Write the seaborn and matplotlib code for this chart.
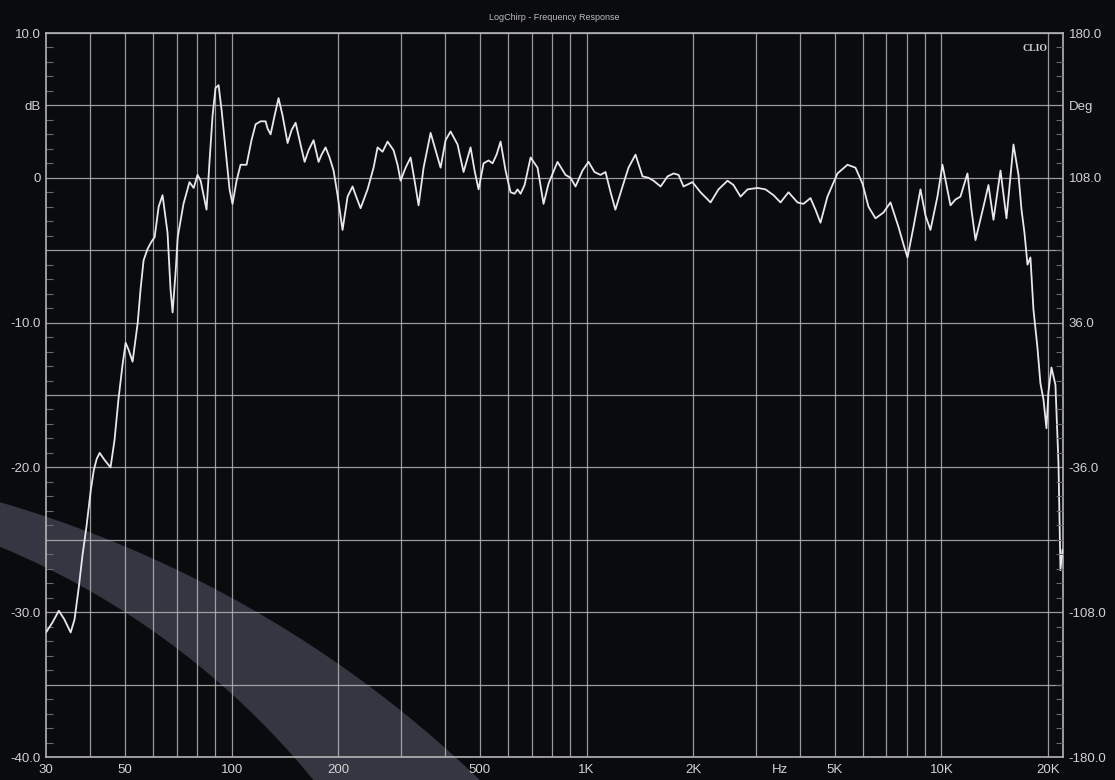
#respuesta em frequencia (LogChirp) estilo CLIO

import numpy as np
import matplotlib
matplotlib.use('Agg')
import matplotlib.pyplot as plt
import seaborn as sns
from matplotlib.patches import Polygon
from matplotlib.ticker import FixedLocator

# dados: frequencia (Hz) e nivel (dB)
freqs = [30, 31.3, 32.6, 33.8, 35.2, 36.1, 37.1, 38.0, 39.0, 40.1, 40.9, 41.7, 42.5, 43.9, 45.6,
         46.8, 48.0, 49.3, 50.3, 51.3, 52.6, 54.4, 55.4, 56.5, 58.0, 59.5, 60.7, 62.3, 63.9, 66.0,
         67.3, 68.2, 69.6, 70.5, 73.2, 76.1, 78.2, 80.2, 81.8, 83.4, 85.0, 86.7, 88.4, 90.1, 91.9,
         93.7, 96.2, 98.7, 100.6, 103.3, 106.0, 110.2, 113.8, 116.9, 120.7, 124.7, 126.3, 128.8, 132.2, 135.6,
         139.2, 143.8, 147.6, 151.5, 156.4, 160.6, 164.8, 170.2, 175.8, 179.3, 184.0, 188.8, 193.8, 198.9, 205.4,
         212.2, 219.2, 223.6, 230.9, 241.6, 251.2, 257.8, 266.3, 275.1, 286.0, 293.5, 299.3, 309.2, 319.4, 327.8,
         336.4, 347.5, 363.7, 375.6, 388.0, 400.8, 414.0, 433.2, 450.4, 471.3, 483.7, 496.4, 512.8, 529.7, 543.6,
         557.9, 572.6, 591.4, 610.9, 627.0, 639.3, 651.9, 669.1, 695.7, 727.8, 756.7, 781.6, 828.5, 872.7, 901.5,
         931.2, 974.3, 1013, 1053, 1095, 1131, 1169, 1206, 1263, 1313, 1374, 1438, 1495, 1545, 1617,
         1692, 1759, 1817, 1876, 1988, 2095, 2236, 2354, 2496, 2595, 2716, 2842, 3032, 3193, 3363,
         3520, 3707, 3930, 4086, 4275, 4416, 4562, 4773, 5093, 5435, 5724, 5991, 6229, 6518, 6864,
         7184, 7568, 7817, 8022, 8340, 8727, 9015, 9311, 9743, 10065, 10602, 10951, 11310, 11837, 12148,
         12470, 13130, 13565, 14013, 14665, 15246, 15955, 16481, 16807, 17134, 17474, 17810, 18162, 18636, 19004,
         19380, 19760, 20017, 20413, 20947, 21362, 21640, 21920]
nivel_db = [-31.4, -30.7, -29.9, -30.5, -31.4, -30.5, -28.3, -26.1, -24.1, -21.6, -20.2, -19.4, -19.0, -19.5, -20.0,
            -18.1, -15.3, -12.9, -11.4, -11.9, -12.7, -10.0, -7.7, -5.7, -4.9, -4.4, -4.1, -2.0, -1.2, -3.8,
            -7.7, -9.3, -6.4, -4.1, -1.8, -0.3, -0.7, 0.2, -0.2, -1.2, -2.2, 1.2, 4.3, 6.2, 6.4,
            4.7, 1.9, -0.8, -1.8, -0.2, 0.9, 0.9, 2.6, 3.7, 3.9, 3.9, 3.4, 3.0, 4.3, 5.5,
            4.3, 2.4, 3.3, 3.8, 2.3, 1.1, 1.9, 2.6, 1.1, 1.6, 2.1, 1.4, 0.5, -1.2, -3.6,
            -1.3, -0.6, -1.2, -2.1, -0.8, 0.7, 2.1, 1.8, 2.5, 1.9, 0.9, -0.2, 0.7, 1.4, -0.2,
            -1.9, 0.7, 3.1, 1.9, 0.7, 2.6, 3.2, 2.3, 0.4, 2.1, 0.5, -0.8, 1.0, 1.2, 1.0,
            1.6, 2.5, 0.5, -1.0, -1.1, -0.8, -1.1, -0.5, 1.4, 0.7, -1.8, -0.4, 1.1, 0.2, 0.0,
            -0.6, 0.5, 1.1, 0.4, 0.2, 0.4, -1.0, -2.2, -0.6, 0.7, 1.6, 0.1, 0.0, -0.2, -0.6,
            0.1, 0.3, 0.2, -0.6, -0.3, -1.0, -1.7, -0.8, -0.2, -0.5, -1.3, -0.8, -0.7, -0.8, -1.2,
            -1.7, -1.0, -1.7, -1.8, -1.4, -2.2, -3.1, -1.3, 0.3, 0.9, 0.7, -0.4, -2.0, -2.8, -2.4,
            -1.7, -3.4, -4.6, -5.5, -3.4, -0.8, -2.6, -3.6, -1.3, 0.9, -1.9, -1.5, -1.3, 0.3, -2.2,
            -4.3, -2.0, -0.5, -2.9, 0.5, -2.8, 2.3, 0.2, -2.2, -3.8, -6.0, -5.5, -9.1, -11.7, -14.2,
            -15.3, -17.3, -14.8, -13.1, -14.3, -19.7, -27.1, -25.7]

# rotulos dos eixos
x_ticks = [30, 50, 100, 200, 500, 1000, 2000, 3500, 5000, 10000, 20000]
x_labels = ['30', '50', '100', '200', '500', '1K', '2K', 'Hz', '5K', '10K', '20K']
y_ticks = [-40, -35, -30, -25, -20, -15, -10, -5, 0, 5, 10]
y_labels = ['-40.0', '', '-30.0', '', '-20.0', '', '-10.0', '', '0', 'dB', '10.0']
fase_ticks = [-180, -108, -36, 36, 108, 144, 180]
fase_labels = ['-180.0', '-108.0', '-36.0', '36.0', '108.0', 'Deg', '180.0']
grade_x = [40, 50, 60, 70, 80, 90, 100, 200, 300, 400, 500, 600, 700, 800, 900,
           1000, 2000, 3000, 4000, 5000, 6000, 7000, 8000, 9000, 10000, 20000]

fundo = '#0a0b0e'
cinza = '#b4b4b4'
texto = '#d2d2d2'

sns.set_theme(style='dark')
plt.rcParams['font.family'] = ['Liberation Sans', 'DejaVu Sans']

fig = plt.figure(figsize=(11.15, 7.8), dpi=100, facecolor=fundo)
ax = fig.add_axes([46 / 1115, 1 - 757 / 780, 1017 / 1115, 724 / 780])
ax.set_facecolor('none')

# faixa decorativa cinza no canto inferior esquerdo (coordenadas em pixels da figura)
W, H = 1115, 780
t_ext = np.radians(np.linspace(78, 42, 80))
t_int = np.radians(np.linspace(36, 72, 80))
ext = np.c_[-324 + 1159 * np.cos(t_ext), 1615 - 1159 * np.sin(t_ext)]
inte = np.c_[-309 + 804 * np.cos(t_int), 1289 - 804 * np.sin(t_int)]
pts = np.vstack([ext, inte])
pts = np.c_[pts[:, 0] / W, 1 - pts[:, 1] / H]
faixa = Polygon(pts, closed=True, transform=fig.transFigure, facecolor='#343741',
                edgecolor='none', zorder=-1)
fig.patches.append(faixa)

# curva de resposta
sns.lineplot(x=freqs, y=nivel_db, ax=ax, color='#e8e8e8', linewidth=1.3,
             estimator=None, sort=False, zorder=5)

ax.set_xscale('log')
ax.set_xlim(30, 22000)
ax.set_ylim(-40, 10)

ax.set_xticks(x_ticks)
ax.set_xticklabels(x_labels)
ax.minorticks_off()
ax.set_yticks(y_ticks)
ax.set_yticklabels(y_labels)
ax.yaxis.set_minor_locator(FixedLocator(np.arange(-40, 11, 1)))

# grade: horizontais a cada 5 dB, verticais nas divisoes da decada
ax.grid(False)
ax.yaxis.grid(True, which='major', color=cinza, linewidth=0.9, alpha=0.85)
for f in grade_x:
    ax.axvline(f, color=cinza, linewidth=0.9, alpha=0.85, zorder=1)

ax.tick_params(axis='x', which='both', length=0, pad=5, labelsize=9.5, colors=texto)
ax.tick_params(axis='y', which='major', length=0, pad=4, labelsize=9.5, colors=texto)
ax.tick_params(axis='y', which='minor', direction='in', length=5, width=0.8, color='#6a6a6a')

for lado in ax.spines.values():
    lado.set_color(cinza)
    lado.set_linewidth(1.2)

# eixo da fase a direita
ax2 = ax.twinx()
ax2.set_ylim(-180, 180)
ax2.set_yticks(fase_ticks)
ax2.set_yticklabels(fase_labels)
ax2.yaxis.set_minor_locator(FixedLocator(np.arange(-180, 181, 7.2)))
ax2.grid(False)
ax2.tick_params(axis='y', which='major', length=0, pad=4, labelsize=9.5, colors=texto)
ax2.tick_params(axis='y', which='minor', direction='in', length=5, width=0.8, color='#6a6a6a')
for lado in ax2.spines.values():
    lado.set_visible(False)

ax.set_title('LogChirp - Frequency Response', fontsize=6.5, color='#bdbdbd', pad=9)
ax.text(0.985, 0.985, 'CLIO', transform=ax.transAxes, ha='right', va='top',
        fontsize=7, fontweight='bold', color='#cfcfcf', family=['Liberation Serif', 'DejaVu Serif'])

fig.savefig('out.png', dpi=100, facecolor=fundo)
